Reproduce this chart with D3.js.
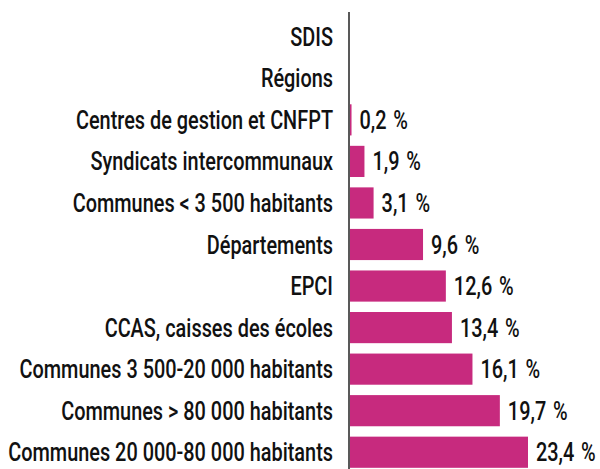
<!DOCTYPE html>
<html>
<head>
<meta charset="utf-8">
<script src="https://cdn.jsdelivr.net/npm/d3@7"></script>
<style>
  body { margin: 0; background: white; }
  text { font-family: Roboto, "DejaVu Sans", sans-serif; font-weight: 500; fill: #111; }
</style>
</head>
<body>
<div id="canvas"></div>
<script>
var width = 600;
var height = 469;

// categories, top to bottom
const categories = [
    "SDIS",
    "Régions",
    "Centres de gestion et CNFPT",
    "Syndicats intercommunaux",
    "Communes < 3 500 habitants",
    "Départements",
    "EPCI",
    "CCAS, caisses des écoles",
    "Communes 3 500-20 000 habitants",
    "Communes > 80 000 habitants",
    "Communes 20 000-80 000 habitants"
];
// share in %, null = no bar
const values = [null, null, 0.2, 1.9, 3.1, 9.6, 12.6, 13.4, 16.1, 19.7, 23.4];

const data = categories.map((c, i) => ({ cat: c, v: values[i] }));

var svg = d3.select("#canvas").append("svg")
    .attr("width", width)
    .attr("height", height)
    .style("background-color", "white");

const xScale = d3.scaleLinear()
    .domain([0, 23.4])
    .range([350, 528]);

const yScale = d3.scaleBand()
    .domain(categories)
    .range([16, 473])
    .paddingInner(0.25)
    .paddingOuter(0.125);

const fmt = v => d3.format(".1f")(v).replace(".", ",") + "\u2004%";

// bars
svg.selectAll(".bar")
    .data(data.filter(d => d.v != null))
    .enter().append("rect")
    .attr("class", "bar")
    .attr("x", xScale(0))
    .attr("y", d => yScale(d.cat))
    .attr("width", d => xScale(d.v) - xScale(0))
    .attr("height", yScale.bandwidth())
    .style("fill", "#c72a7e");

// the font is narrow in the original: squeeze text horizontally
const fs = 25;
var probe = svg.append("text").style("font-size", fs + "px")
    .text("Communes 20 000-80 000 habitants");
const sx = 325 / probe.node().getComputedTextLength();
probe.remove();

const midY = d => yScale(d.cat) + yScale.bandwidth() / 2;

// category labels
svg.selectAll(".cat")
    .data(data)
    .enter().append("text")
    .attr("class", "cat")
    .attr("transform", d => `translate(333,${midY(d)}) scale(${sx},1)`)
    .attr("dy", "0.36em")
    .attr("text-anchor", "end")
    .style("font-size", fs + "px")
    .text(d => d.cat);

// value labels
svg.selectAll(".val")
    .data(data.filter(d => d.v != null))
    .enter().append("text")
    .attr("class", "val")
    .attr("transform", d => `translate(${xScale(d.v) + 8},${midY(d)}) scale(${sx},1)`)
    .attr("dy", "0.36em")
    .style("font-size", fs + "px")
    .text(d => fmt(d.v));

// axis line
svg.append("line")
    .attr("x1", 349).attr("x2", 349)
    .attr("y1", 12).attr("y2", height)
    .style("stroke", "#222")
    .style("stroke-width", 1.5);
</script>
</body>
</html>
